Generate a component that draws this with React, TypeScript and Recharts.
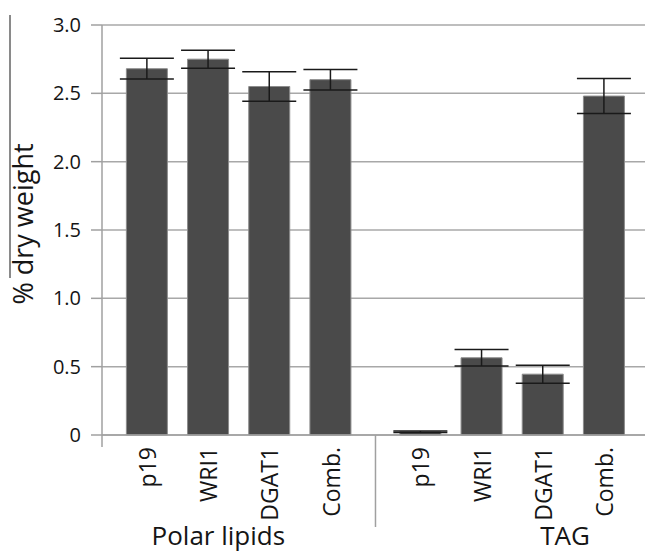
import { BarChart, Bar, XAxis, YAxis, CartesianGrid, ErrorBar, ReferenceLine } from 'recharts'

const groups = ['Polar lipids', 'TAG']
const categories = ['p19', 'WRI1', 'DGAT1', 'Comb.']
const polarValues = [2.68, 2.75, 2.55, 2.6]
const polarErrors = [0.076, 0.066, 0.108, 0.075]
const tagValues = [0.024, 0.565, 0.445, 2.48]
const tagErrors = [0.005, 0.06, 0.066, 0.128]
const yTicks = [0, 0.5, 1, 1.5, 2, 2.5, 3]

// bars sit at integer steps inside a group, groups are spread a bit wider
const GROUP_STEP = 4.47
const PAD = 0.735
const X_MIN = -PAD
const X_MAX = 8.14
const SEPARATOR = GROUP_STEP - PAD

const data = [polarValues, tagValues].flatMap((vals, g) =>
  vals.map((v, i) => ({
    x: g * GROUP_STEP + i,
    name: categories[i],
    value: v,
    err: (g === 0 ? polarErrors : tagErrors)[i],
  }))
)
const groupCenters = groups.map((_, g) => g * GROUP_STEP + 1.5)

const FONT = '"Open Sans", sans-serif'

function CategoryTick(props: any) {
  const { x, y, payload } = props
  const item = data.find((d) => Math.abs(d.x - payload.value) < 0.01)
  return (
    <text
      transform={`translate(${x},${y + 12}) rotate(-90)`}
      textAnchor="end"
      dominantBaseline="central"
      fontSize={23}
      fontFamily={FONT}
      fill="#151515"
    >
      {item ? item.name : ''}
    </text>
  )
}

function GroupTick(props: any) {
  const { x, y, index } = props
  return (
    <text x={x} y={y + 30} textAnchor="middle" fontSize={26} fontFamily={FONT} fill="#151515">
      {groups[index]}
    </text>
  )
}

export default function App() {
  return (
    <div style={{ position: 'absolute', left: 0, top: 0, width: 645, height: 552 }}>
      <div style={{ position: 'absolute', left: 9, top: 15, width: 1.5, height: 263, background: '#8a8a8a' }} />
      <BarChart
        width={645}
        height={552}
        data={data}
        margin={{ top: 25, right: 0, bottom: 0, left: 0 }}
      >
        <CartesianGrid vertical={false} stroke="#a8a8a8" strokeWidth={1.5} />
        <XAxis
          dataKey="x"
          type="number"
          domain={[X_MIN, X_MAX]}
          ticks={data.map((d) => d.x)}
          allowDataOverflow
          height={80}
          axisLine={{ stroke: '#a0a0a0', strokeWidth: 1.5 }}
          tickLine={false}
          tickSize={0}
          tickMargin={0}
          tick={<CategoryTick />}
        />
        <XAxis
          xAxisId="grp"
          type="number"
          domain={[X_MIN, X_MAX]}
          ticks={groupCenters}
          allowDataOverflow
          height={37}
          axisLine={false}
          tickLine={false}
          tickSize={0}
          tickMargin={0}
          tick={<GroupTick />}
        />
        <YAxis
          domain={[0, 3]}
          ticks={yTicks}
          width={102}
          axisLine={{ stroke: '#a0a0a0', strokeWidth: 1.5 }}
          tickLine={{ stroke: '#a0a0a0', strokeWidth: 1.5 }}
          tickSize={11}
          tickMargin={10}
          tickFormatter={(v: number) => (v === 0 ? '0' : v.toFixed(1))}
          tick={{ fontSize: 20, fontFamily: FONT, fill: '#151515' }}
          label={{
            value: '% dry weight',
            content: () => (
              <text
                transform="translate(22,224) rotate(-90)"
                textAnchor="middle"
                dominantBaseline="central"
                fontSize={27}
                fontFamily={FONT}
                fill="#151515"
              >
                % dry weight
              </text>
            ),
          }}
        />
        <ReferenceLine
          segment={[{ x: SEPARATOR, y: 0 }, { x: SEPARATOR, y: -0.673 }]}
          ifOverflow="visible"
          stroke="#a0a0a0"
          strokeWidth={1.5}
        />
        <ReferenceLine
          segment={[{ x: X_MIN, y: 0 }, { x: X_MIN, y: -0.088 }]}
          ifOverflow="visible"
          stroke="#a0a0a0"
          strokeWidth={1.5}
        />
        <Bar dataKey="value" fill="#4a4a4a" stroke="#8c8c8c" strokeWidth={1} barSize={41} isAnimationActive={false}>
          <ErrorBar dataKey="err" width={27} stroke="#1a1a1a" strokeWidth={1.5} />
        </Bar>
      </BarChart>
    </div>
  )
}
